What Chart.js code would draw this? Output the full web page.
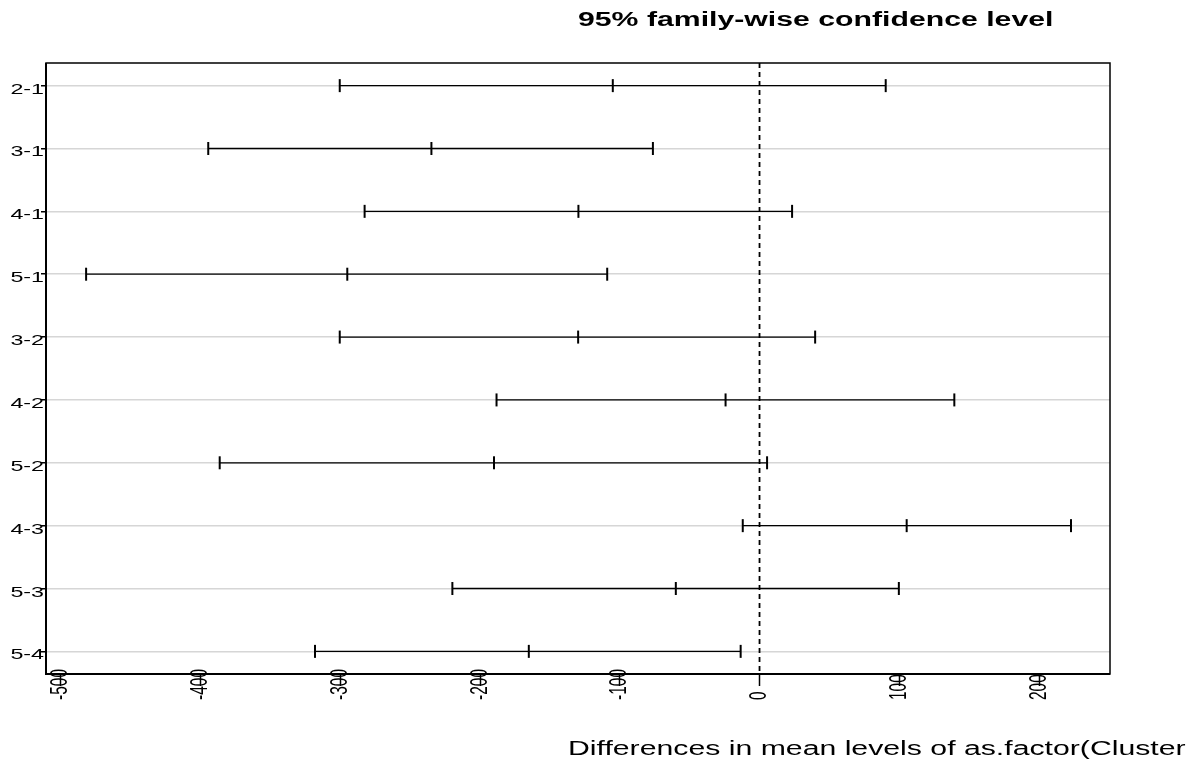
<!DOCTYPE html>
<html>
<head>
<meta charset="utf-8">
<script src="https://cdn.jsdelivr.net/npm/chart.js@4.4.1/dist/chart.umd.min.js"></script>
<style>
  html, body { margin: 0; padding: 0; background: #fff; }
  #wrap { width: 1199px; height: 769px; }
</style>
</head>
<body>
<div id="wrap"><canvas id="tukeyChart" width="1199" height="769"></canvas></div>
<script>
// Tukey HSD comparisons
const comparisons = ["2-1", "3-1", "4-1", "5-1", "3-2", "4-2", "5-2", "4-3", "5-3", "5-4"];
const diffs  = [-105.0, -234.8, -129.6, -295.0, -129.8, -24.3, -190.0, 105.3, -59.9, -165.1];
const lowers = [-300.4, -394.5, -282.6, -481.9, -300.4, -188.2, -386.3, -12.0, -219.8, -318.1];
const uppers = [90.3, -76.3, 23.3, -109.0, 39.8, 139.4, 5.4, 222.9, 99.7, -13.5];
const xTicks = [-500, -400, -300, -200, -100, 0, 100, 200];

const titleText = "95% family-wise confidence level";
const xTitleText = "Differences in mean levels of as.factor(Cluster";

const FONT = '"Liberation Sans", Arial, Helvetica, sans-serif';
const STRETCH = 1.55; // the original picture is stretched sideways

function stretchedText(ctx, text, x, y, font, align, rotate) {
  ctx.save();
  ctx.translate(x, y);
  ctx.scale(STRETCH, 1);
  if (rotate) ctx.rotate(-Math.PI / 2);
  ctx.font = font;
  ctx.textAlign = align;
  ctx.textBaseline = rotate ? "middle" : "alphabetic";
  ctx.fillStyle = "#000";
  ctx.fillText(text, 0, 0);
  ctx.restore();
}

const decorations = {
  id: "decorations",
  afterDraw(chart) {
    const { ctx, chartArea: a, scales: { x, y } } = chart;
    ctx.save();
    ctx.strokeStyle = "#000";
    ctx.lineWidth = 1.5;
    ctx.strokeRect(a.left, a.top, a.right - a.left, a.bottom - a.top);
    ctx.lineWidth = 2;
    ctx.beginPath();
    ctx.moveTo(a.left, a.top);
    ctx.lineTo(a.left, a.bottom);
    ctx.lineTo(a.right, a.bottom);
    ctx.stroke();
    ctx.restore();

    comparisons.forEach((c, i) => {
      stretchedText(ctx, c, a.left - 2, y.getPixelForValue(i + 1) + 8, "15px " + FONT, "right", false);
    });
    xTicks.forEach(v => {
      stretchedText(ctx, String(v), x.getPixelForValue(v), 700, "15.5px " + FONT, "left", true);
    });

    stretchedText(ctx, titleText, 578, 26, "bold 19.5px " + FONT, "left", false);
    stretchedText(ctx, xTitleText, 568, 755, "19.5px " + FONT, "left", false);
  }
};

const intervalSets = comparisons.map((name, i) => ({
  label: name,
  data: [
    { x: lowers[i], y: i + 1 },
    { x: diffs[i], y: i + 1 },
    { x: uppers[i], y: i + 1 }
  ],
  showLine: true,
  borderColor: "#000",
  borderWidth: 1.3,
  pointStyle: "line",
  rotation: 90,
  pointRadius: 6.5,
  pointBorderWidth: 2,
  pointBorderColor: "#000",
  pointHoverRadius: 6.5
}));

const zeroLine = {
  label: "zero",
  data: [{ x: 0, y: 0.64 }, { x: 0, y: 10.36 }],
  showLine: true,
  borderColor: "#000",
  borderWidth: 1.8,
  borderDash: [5, 4],
  pointRadius: 0
};

new Chart(document.getElementById("tukeyChart"), {
  type: "scatter",
  data: { datasets: [zeroLine, ...intervalSets] },
  options: {
    responsive: false,
    animation: false,
    devicePixelRatio: 1,
    layout: { padding: { top: 63, right: 89, left: 0, bottom: 0 } },
    plugins: {
      legend: { display: false },
      tooltip: { enabled: false }
    },
    scales: {
      x: {
        type: "linear",
        min: -510.6,
        max: 250.8,
        afterBuildTicks: s => { s.ticks = xTicks.map(v => ({ value: v })); },
        afterFit: s => { s.height = 95; },
        ticks: { display: false },
        border: { display: false },
        grid: {
          drawOnChartArea: false,
          drawTicks: true,
          tickLength: 12,
          tickColor: "#000",
          tickWidth: 1.5
        }
      },
      y: {
        type: "linear",
        reverse: true,
        min: 0.64,
        max: 10.36,
        afterBuildTicks: s => { s.ticks = comparisons.map((c, i) => ({ value: i + 1 })); },
        afterFit: s => { s.width = 46; },
        ticks: { display: false },
        border: { display: false },
        grid: {
          color: "#d6d6d6",
          lineWidth: 1.5,
          drawTicks: true,
          tickLength: 5,
          tickColor: "#000",
          tickWidth: 1.5
        }
      }
    }
  },
  plugins: [decorations]
});
</script>
</body>
</html>
